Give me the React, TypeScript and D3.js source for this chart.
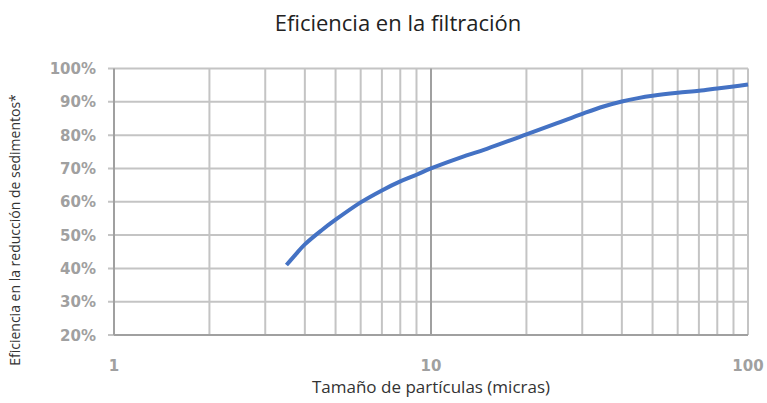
import React from "react";
import * as d3 from "d3";

const sizes = [3.5, 3.75, 4, 4.5, 5, 6, 7, 8, 9, 10, 12, 15, 20, 25, 30, 35, 40, 45, 50, 60, 70, 80, 90, 100];
const efficiency = [41, 44.3, 47.2, 51.3, 54.6, 59.8, 63.4, 66.1, 68.1, 70, 72.8, 75.9, 80.2, 83.6, 86.4, 88.6, 90.1, 91.1, 91.8, 92.7, 93.3, 94, 94.6, 95.2];
const yTicks = [20, 30, 40, 50, 60, 70, 80, 90, 100];
const xLabels = [1, 10, 100];
const xGrid = [1, 2, 3, 4, 5, 6, 7, 8, 9, 10, 20, 30, 40, 50, 60, 70, 80, 90, 100];

const W = 767, H = 403;
const left = 114, right = 748, top = 68.5, bottom = 335;

export default function App() {
  const x = d3.scaleLog().domain([1, 100]).range([left, right]);
  const y = d3.scaleLinear().domain([20, 100]).range([bottom, top]);
  const line = d3
    .line<number>()
    .x((_, i) => x(sizes[i]))
    .y((d) => y(d))
    .curve(d3.curveCatmullRom.alpha(0.5));

  return (
    <svg width={W} height={H} style={{ position: "absolute", left: 0, top: 0 }}>
      <rect width={W} height={H} fill="#fff" />
      <text x={398} y={31} textAnchor="middle" fontFamily="Open Sans" fontSize={22} fill="#222">
        Eficiencia en la filtración
      </text>
      {yTicks.map((t) => (
        <line key={"h" + t} x1={left - 6} x2={right} y1={y(t)} y2={y(t)} stroke="#c4c4c4" strokeWidth={2} />
      ))}
      {xGrid.map((t) => (
        <line
          key={"v" + t}
          x1={x(t)}
          x2={x(t)}
          y1={top}
          y2={bottom}
          stroke={t === 10 ? "#a0a0a0" : "#c4c4c4"}
          strokeWidth={2}
        />
      ))}
      <line x1={left} x2={left} y1={top} y2={bottom} stroke="#a0a0a0" strokeWidth={2} />
      <line x1={left} x2={right} y1={bottom} y2={bottom} stroke="#a0a0a0" strokeWidth={2} />
      {yTicks.map((t) => (
        <text
          key={"yl" + t}
          x={96}
          y={y(t) + 5.5}
          textAnchor="end"
          fontFamily="DejaVu Sans"
          fontWeight="bold"
          fontSize={15}
          fill="#a0a0a0"
        >
          {t}%
        </text>
      ))}
      {xLabels.map((t) => (
        <text
          key={"xl" + t}
          x={x(t)}
          y={371}
          textAnchor="middle"
          fontFamily="DejaVu Sans"
          fontWeight="bold"
          fontSize={15}
          fill="#a0a0a0"
        >
          {t}
        </text>
      ))}
      <path d={line(efficiency) || ""} fill="none" stroke="#4472C4" strokeWidth={4} />
      <text x={431} y={393} textAnchor="middle" fontFamily="Open Sans" fontSize={17} fill="#333">
        Tamaño de partículas (micras)
      </text>
      <text
        transform={`translate(20, 230) rotate(-90)`}
        textAnchor="middle"
        fontFamily="Open Sans"
        fontSize={14}
        fill="#333"
      >
        Eficiencia en la reducción de sedimentos*
      </text>
    </svg>
  );
}
